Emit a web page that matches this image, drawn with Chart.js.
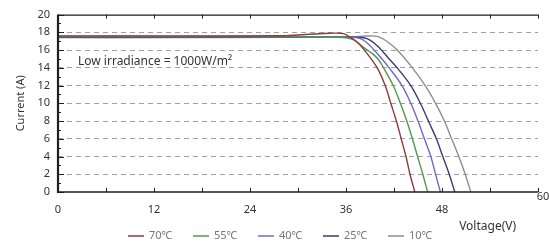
<!DOCTYPE html>
<html>
<head>
<meta charset="utf-8">
<title>I-V curve</title>
<script src="https://cdn.jsdelivr.net/npm/chart.js"></script>
<style>
  html, body { margin: 0; padding: 0; background: #fff; }
  #wrap { width: 549px; height: 243px; }
</style>
</head>
<body>
<div id="wrap"><canvas id="grafico" width="549" height="243"></canvas></div>
<script>
// curvas I-V (voltaje V, corriente A)
const temperaturas = ["70℃", "55℃", "40℃", "25℃", "10℃"];
const colores = ["#8c3b3b", "#4f9a4f", "#6b6bc6", "#3b3b7a", "#8e8e8e"];

const v70 = [0, 14, 28, 31, 34, 35.7, 36.6, 37.5, 38.3, 39.9, 40.9, 41.6, 42.3, 42.9, 43.5, 44.0, 44.6];
const i70 = [17.6, 17.6, 17.62, 17.75, 17.9, 17.85, 17.4, 16.8, 16.0, 14.0, 12.0, 10.0, 8.0, 6.0, 4.0, 2.0, 0];

const v55 = [0, 14, 28, 35, 36.2, 37.1, 38.2, 39.3, 40.0, 40.7, 41.9, 42.8, 43.6, 44.3, 44.95, 45.6, 46.2];
const i55 = [17.55, 17.55, 17.5, 17.45, 17.35, 17.1, 16.3, 15.6, 15.0, 14.0, 12.0, 10.0, 8.0, 6.0, 4.0, 2.0, 0];

const v40 = [0, 14, 28, 36, 37.8, 39.0, 40.5, 41.4, 43.0, 44.1, 45.0, 45.8, 46.6, 47.2, 47.8];
const i40 = [17.5, 17.5, 17.5, 17.45, 17.3, 16.5, 15.0, 14.0, 12.0, 10.0, 8.0, 6.0, 4.0, 2.0, 0];

const v25 = [0, 14, 28, 37, 38.6, 39.9, 41.4, 42.4, 44.1, 45.3, 46.3, 47.3, 48.1, 48.9, 49.6];
const i25 = [17.45, 17.45, 17.45, 17.45, 17.3, 16.5, 15.0, 14.0, 12.0, 10.0, 8.0, 6.0, 4.0, 2.0, 0];

const v10 = [0, 14, 28, 37, 38.5, 39.9, 41.1, 42.4, 44.3, 45.9, 47.2, 48.3, 49.2, 50.1, 50.9, 51.6];
const i10 = [17.4, 17.4, 17.43, 17.5, 17.58, 17.55, 17.0, 16.0, 14.0, 12.0, 10.0, 8.0, 6.0, 4.0, 2.0, 0];

const voltajes = [v70, v55, v40, v25, v10];
const corrientes = [i70, i55, i40, i25, i10];

const ticksX = [0, 12, 24, 36, 48, 60];
const menoresX = [6, 18, 30, 42, 54];
const nota = "Low irradiance = 1000W/m²";
const tituloX = "Voltage(V)";
const tituloY = "Current (A)";

const fuente = "'Noto Sans', 'DejaVu Sans', sans-serif";

const datasets = temperaturas.map((t, k) => ({
    label: t,
    data: voltajes[k].map((v, j) => ({ x: v, y: corrientes[k][j] })),
    borderColor: colores[k],
    borderWidth: 1.4,
    showLine: true,
    pointRadius: 0,
    tension: 0.35,
    fill: false
}));

// marco, marcas de ejes, textos extra y leyenda
const extras = {
    id: "extras",
    afterDatasetsDraw(chart) {
        const ctx = chart.ctx;
        const xs = chart.scales.x;
        const ys = chart.scales.y;
        const a = chart.chartArea;
        ctx.save();
        ctx.strokeStyle = "#1e1e1e";
        // borde superior
        ctx.lineWidth = 1.2;
        ctx.beginPath();
        ctx.moveTo(a.left, a.top + 0.5);
        ctx.lineTo(a.right, a.top + 0.5);
        ctx.stroke();
        // eje inferior
        ctx.lineWidth = 1.6;
        ctx.beginPath();
        ctx.moveTo(a.left, a.bottom);
        ctx.lineTo(a.right, a.bottom);
        ctx.stroke();
        // eje izquierdo
        ctx.lineWidth = 2.2;
        ctx.beginPath();
        ctx.moveTo(a.left, a.top);
        ctx.lineTo(a.left, a.bottom + 1);
        ctx.stroke();
        // marcas en x (arriba y abajo)
        ctx.lineWidth = 1;
        ticksX.concat(menoresX).forEach(v => {
            const px = Math.round(xs.getPixelForValue(v)) + 0.5;
            ctx.beginPath();
            ctx.moveTo(px, a.bottom);
            ctx.lineTo(px, a.bottom - 4);
            ctx.moveTo(px, a.top);
            ctx.lineTo(px, a.top + 4);
            ctx.stroke();
        });
        // marcas en y
        for (let v = 0; v <= 20; v++) {
            const py = Math.round(ys.getPixelForValue(v)) + 0.5;
            const largo = v % 2 === 0 ? 6 : 3;
            ctx.beginPath();
            ctx.moveTo(a.left, py);
            ctx.lineTo(a.left + largo, py);
            ctx.stroke();
        }
        // nota
        ctx.fillStyle = "#333";
        ctx.font = "12px " + fuente;
        ctx.textAlign = "left";
        ctx.textBaseline = "middle";
        ctx.fillText(nota, xs.getPixelForValue(2.5), ys.getPixelForValue(14.7));
        // etiqueta 60
        ctx.font = "11px " + fuente;
        ctx.textAlign = "center";
        ctx.fillText("60", xs.getPixelForValue(60) + 5, a.bottom + 5);
        // título x
        ctx.font = "12px " + fuente;
        ctx.fillText(tituloX, xs.getPixelForValue(53.7), a.bottom + 35);
        // leyenda
        ctx.font = "11px " + fuente;
        ctx.textAlign = "left";
        const y0 = a.bottom + 44;
        let x0 = 128;
        temperaturas.forEach((t, k) => {
            ctx.strokeStyle = colores[k];
            ctx.globalAlpha = 0.75;
            ctx.lineWidth = 2;
            ctx.beginPath();
            ctx.moveTo(x0, y0);
            ctx.lineTo(x0 + 16, y0);
            ctx.stroke();
            ctx.globalAlpha = 1;
            ctx.fillStyle = "#777";
            ctx.fillText(t, x0 + 21, y0);
            x0 += 65;
        });
        ctx.restore();
    }
};

new Chart(document.getElementById("grafico").getContext("2d"), {
    type: "scatter",
    data: { datasets },
    options: {
        responsive: false,
        animation: false,
        layout: { padding: { top: 14, right: 6, left: 0, bottom: 0 } },
        plugins: {
            legend: { display: false },
            tooltip: { enabled: false }
        },
        scales: {
            x: {
                type: "linear",
                min: 0,
                max: 60,
                afterFit: s => { s.height = 51; },
                afterBuildTicks: s => { s.ticks = ticksX.map(v => ({ value: v })); },
                ticks: {
                    autoSkip: false,
                    maxRotation: 0,
                    padding: 11,
                    color: "#333",
                    font: { size: 11, family: fuente },
                    callback: v => (v === 60 ? "" : v)
                },
                grid: { display: false, drawTicks: false },
                border: { display: false }
            },
            y: {
                min: 0,
                max: 20,
                afterFit: s => { s.width = 58; },
                ticks: {
                    stepSize: 2,
                    padding: 8,
                    color: "#333",
                    font: { size: 11, family: fuente }
                },
                grid: {
                    drawTicks: false,
                    color: c => (c.tick.value === 0 || c.tick.value === 20 ? "rgba(0,0,0,0)" : "#a0a0a0"),
                    lineWidth: 1
                },
                border: { display: false, dash: [5, 4] },
                title: {
                    display: true,
                    text: tituloY,
                    color: "#333",
                    font: { size: 11, family: fuente },
                    padding: { top: 14, bottom: 0 }
                }
            }
        }
    },
    plugins: [extras]
});
</script>
</body>
</html>
